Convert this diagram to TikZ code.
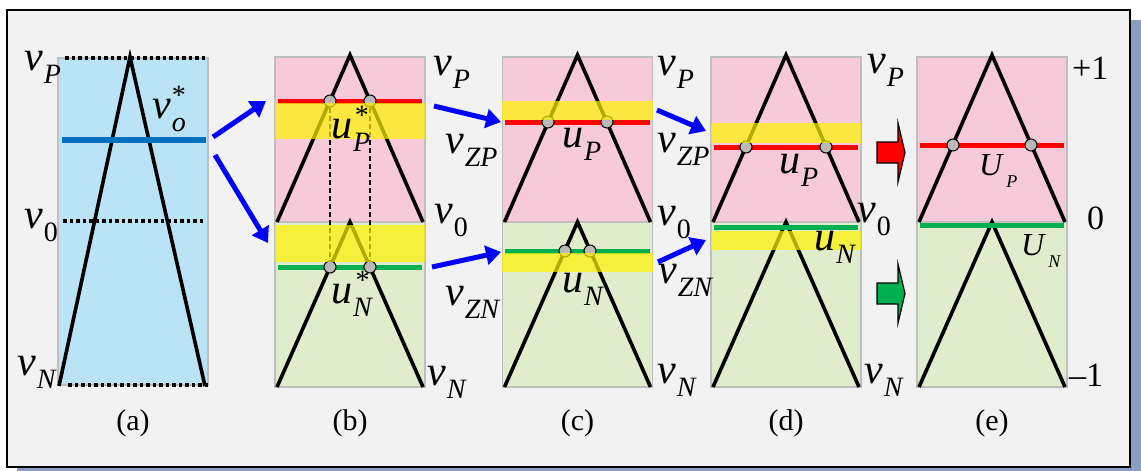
\documentclass[tikz,border=0pt]{standalone}
\usepackage{fontspec}
\setmainfont{Liberation Serif}
\usetikzlibrary{arrows.meta}
\definecolor{PanelPink}{RGB}{247,202,218}
\definecolor{PanelGreen}{RGB}{224,237,204}
\definecolor{PanelBlue}{RGB}{186,227,246}
\definecolor{LineBlue}{RGB}{0,112,192}
\definecolor{LineGreen}{RGB}{0,176,80}
\definecolor{FrameGray}{RGB}{242,242,242}
\definecolor{ShadowBlue}{RGB}{138,158,192}
\definecolor{EdgeGray}{RGB}{190,190,190}
% v_P style symbols with lowered subscript (and optional star)
\newcommand{\sym}[2]{{\itshape #1}\kern1pt\raisebox{-.32em}{\fontsize{28}{28}\selectfont\itshape #2}}
\newcommand{\symst}[2]{{\itshape #1}\kern1pt\raisebox{-.32em}{\fontsize{28}{28}\selectfont\itshape\ooalign{#2\cr\hidewidth\raisebox{.95em}{\upshape *}\hidewidth\cr}}}
\newcommand{\bigsym}[2]{{\itshape #1}\kern4pt\raisebox{-.38em}{\fontsize{18}{18}\selectfont\itshape #2}}

\begin{document}
\begin{tikzpicture}[x=1pt,y=-1pt,
  panel/.style={draw=EdgeGray,line width=1.2pt,minimum width=150pt,
                minimum height=165pt,inner sep=0pt},
  tri/.style={line width=3.6pt},
  lvl/.style={line width=5pt},
  band/.style={fill=yellow,opacity=0.7},
  dot/.style={circle,draw=black,fill=gray!55,line width=1pt,
              minimum size=12pt,inner sep=0pt},
  flow/.style={-{Triangle[length=15pt,width=19pt]},line width=5pt,blue},
  blk/.style={draw=black,line width=1.2pt},
  lbl/.style={anchor=base west,inner sep=0pt,font=\fontsize{42}{42}\selectfont},
  subcap/.style={anchor=base,inner sep=0pt,font=\fontsize{30}{30}\selectfont},
]
\useasboundingbox (0,0) rectangle (1141,471);
% frame with shadow
\fill[ShadowBlue] (17,20) rectangle (1141,471);
\draw[fill=FrameGray,line width=1.8pt] (7,10) rectangle (1130,467);

% (a) --- input range
\node[panel,fill=PanelBlue,minimum height=327pt] (pa) at (133,221.5) {};
\draw[black,line width=3.2pt,dash pattern=on 3.5pt off 3pt] (65,58) -- (208,58);
\draw[black,line width=3.2pt,dash pattern=on 3.5pt off 3pt] (63,221) -- (205,221);
\draw[black,line width=3.2pt,dash pattern=on 3.5pt off 3pt] (68,385) -- (208,385);
\draw[tri] (59,386) -- (130,57) -- (205,386);
\draw[LineBlue,line width=6pt] (62,140) -- (206,140);

% (b)--(e) --- split halves
\foreach \cx/\nm in {350/b,577.5/c,786/d,992/e}{
  \node[panel,fill=PanelPink] (\nm-top) at (\cx,139.5) {};
  \node[panel,fill=PanelGreen] (\nm-bot) at (\cx,304.5) {};
  \draw[tri] ({\cx-73},222) -- (\cx,55) -- ({\cx+73},222);
  \draw[tri] ({\cx-73},387) -- (\cx,222) -- ({\cx+73},387);
}

% levels
\draw[lvl,red] (278,101) -- (422,101);
\draw[lvl,LineGreen] (278,267) -- (422,267);
\draw[lvl,red] (505,122) -- (650,122);
\draw[lvl,LineGreen] (505,251) -- (650,251);
\draw[lvl,red] (714,147) -- (858,147);
\draw[lvl,LineGreen] (714,227) -- (858,227);
\draw[lvl,red] (920,145) -- (1064,145);
\draw[lvl,LineGreen] (920,225) -- (1064,225);

% crossing points
\node[dot] (bu1) at (330,101) {};
\node[dot] (bu2) at (370,101) {};
\node[dot] (bl1) at (330,267) {};
\node[dot] (bl2) at (370,267) {};
\draw[dashed,line width=1.4pt,dash pattern=on 5pt off 3pt] (bu1) -- (bl1);
\draw[dashed,line width=1.4pt,dash pattern=on 5pt off 3pt] (bu2) -- (bl2);
\node[dot] (cu1) at (548,122) {};
\node[dot] (cu2) at (607,122) {};
\node[dot] (cl1) at (565,251) {};
\node[dot] (cl2) at (590,251) {};
\node[dot] (du1) at (746,147) {};
\node[dot] (du2) at (826,147) {};
\node[dot] (eu1) at (953,145) {};
\node[dot] (eu2) at (1031,145) {};

% yellow bands
\fill[band] (275,103) rectangle (425,139);
\fill[band] (275,225) rectangle (425,262);
\fill[band] (502,101) rectangle (653,120);
\fill[band] (502,253) rectangle (653,272);
\fill[band] (711,123) rectangle (861,143);
\fill[band] (711,231) rectangle (861,250);

% flow arrows
\coordinate (a-o1) at (213,137);
\coordinate (a-o2) at (215,155);
\coordinate (b-i1) at (266,101);
\coordinate (b-i2) at (268,243);
\coordinate (b-o1) at (434,106);
\coordinate (b-o2) at (432,267);
\coordinate (c-i1) at (501,122);
\coordinate (c-i2) at (501,252);
\coordinate (c-o1) at (657,110);
\coordinate (c-o2) at (658,262);
\coordinate (d-i1) at (706,131);
\coordinate (d-i2) at (706,240);
\draw[flow] (a-o1) -- (b-i1);
\draw[flow] (a-o2) -- (b-i2);
\draw[flow] (b-o1) -- (c-i1);
\draw[flow] (b-o2) -- (c-i2);
\draw[flow] (c-o1) -- (d-i1);
\draw[flow] (c-o2) -- (d-i2);

% block arrows
\draw[blk,fill=red] (877,142) -- (898,142) -- (898,123) -- (905,152.5)
  -- (898,182) -- (898,163) -- (877,163) -- cycle;
\draw[blk,fill=LineGreen] (877,283) -- (898,283) -- (898,264) -- (905,293.5)
  -- (898,323) -- (898,304) -- (877,304) -- cycle;

% labels
\node[lbl] (la-P) at (24,70) {\sym{v}{P}};
\node[lbl] (la-o) at (152,118) {\symst{v}{o}};
\node[lbl] (la-0) at (24,228) {\sym{v}{\upshape 0}};
\node[lbl] (la-N) at (17,375) {\sym{v}{N}};
\node[lbl] (lb-P) at (433,75) {\sym{v}{P}};
\node[lbl] (lb-ZP) at (445,153) {\sym{v}{ZP}};
\node[lbl] (lb-0) at (434,223) {\sym{v}{\upshape 0}};
\node[lbl] (lb-ZN) at (445,305) {\sym{v}{ZN}};
\node[lbl] (lb-N) at (427,385) {\sym{v}{N}};
\node[lbl] (lb-uP) at (331,138) {\symst{u}{P}};
\node[lbl] (lb-uN) at (331,303) {\symst{u}{N}};
\node[lbl] (lc-P) at (657,75) {\sym{v}{P}};
\node[lbl] (lc-ZP) at (657,152) {\sym{v}{ZP}};
\node[lbl] (lc-0) at (657,225) {\sym{v}{\upshape 0}};
\node[lbl] (lc-ZN) at (658,283) {\sym{v}{ZN}};
\node[lbl] (lc-N) at (657,383) {\sym{v}{N}};
\node[lbl] (lc-uP) at (562,147) {\sym{u}{P}};
\node[lbl] (lc-uN) at (562,292) {\sym{u}{N}};
\node[lbl] (ld-P) at (867,73) {\sym{v}{P}};
\node[lbl] (ld-0) at (857,222) {\sym{v}{\upshape 0}};
\node[lbl] (ld-N) at (864,383) {\sym{v}{N}};
\node[lbl] (ld-uP) at (779,173) {\sym{u}{P}};
\node[lbl] (ld-uN) at (814,250) {\sym{u}{N}};
\node[lbl,font=\fontsize{32}{32}\selectfont] (le-UP) at (979,175) {\bigsym{U}{P}};
\node[lbl,font=\fontsize{32}{32}\selectfont] (le-UN) at (1021,255) {\bigsym{U}{N}};
\node[lbl,font=\fontsize{34}{34}\selectfont] (le-p1) at (1072,79) {+1};
\node[lbl,font=\fontsize{34}{34}\selectfont] (le-z) at (1087,229) {0};
\node[lbl,font=\fontsize{34}{34}\selectfont] (le-m1) at (1069,386) {\textendash1};
\foreach \cx/\nm in {133/a,350/b,577.5/c,786/d,992/e}
  \node[subcap] (cap-\nm) at (\cx,430) {(\nm)};
\end{tikzpicture}
\end{document}
